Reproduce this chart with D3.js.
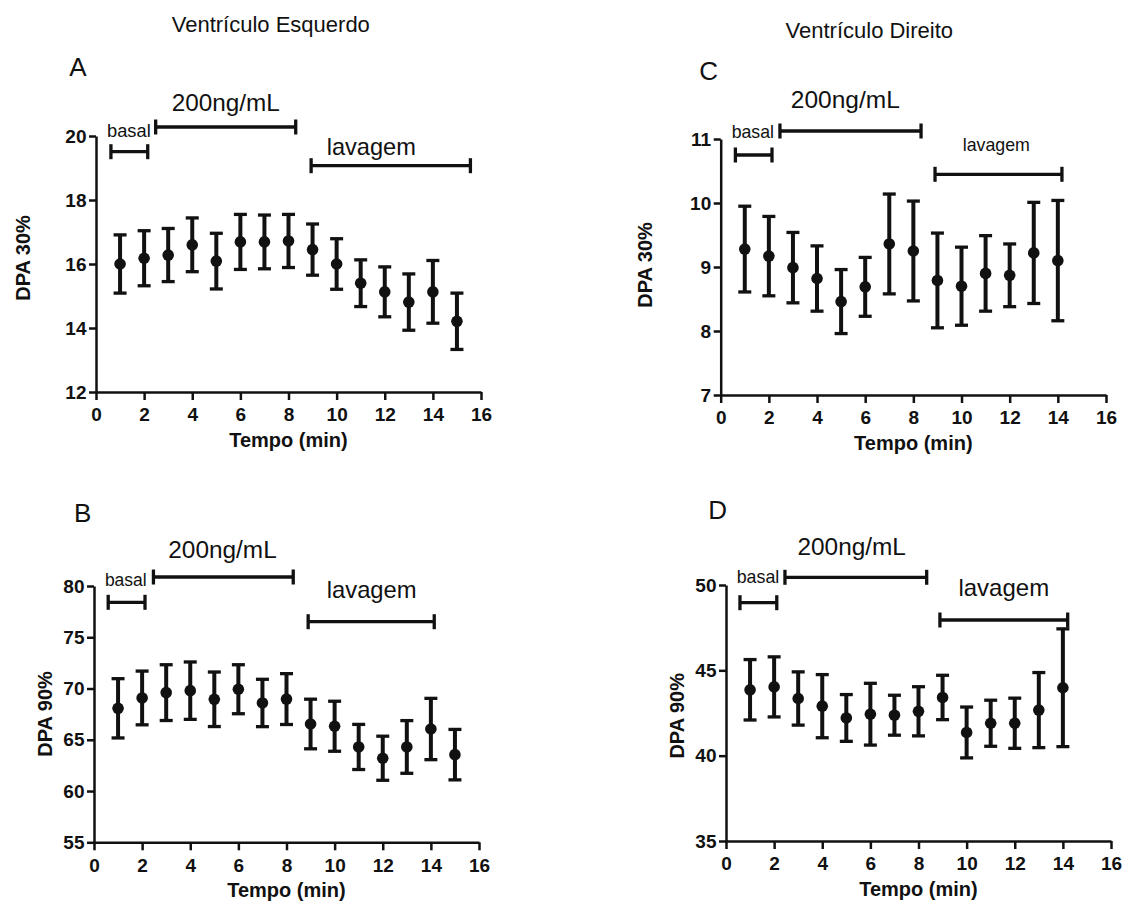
<!DOCTYPE html>
<html>
<head>
<meta charset="utf-8">
<script src="https://cdnjs.cloudflare.com/ajax/libs/d3/7.8.5/d3.min.js"></script>
<style>
body{margin:0;background:#fff;}
svg text{font-family:Arial,"Liberation Sans",sans-serif;fill:#111;}
</style>
</head>
<body>
<div id="chart"></div>
<script>
// tempos (min)
var tempoEsq=[1,2,3,4,5,6,7,8,9,10,11,12,13,14,15];
var tempoDir=[1,2,3,4,5,6,7,8,9,10,11,12,13,14];

// A - ventriculo esquerdo, DPA 30%
var dpa30Esq=[16.0,16.18,16.28,16.6,16.09,16.69,16.69,16.72,16.45,16.0,15.4,15.13,14.81,15.13,14.21];
var dpa30EsqEpm=[0.91,0.86,0.83,0.84,0.87,0.86,0.84,0.83,0.80,0.79,0.73,0.78,0.88,0.98,0.88];
// B - ventriculo esquerdo, DPA 90%
var dpa90Esq=[68.07,69.08,69.6,69.79,68.95,69.93,68.59,68.97,66.54,66.32,64.3,63.2,64.3,66.05,63.55];
var dpa90EsqEpm=[2.89,2.62,2.72,2.8,2.66,2.39,2.31,2.48,2.42,2.44,2.2,2.15,2.57,2.99,2.46];
// C - ventriculo direito, DPA 30%
var dpa30Dir=[9.28,9.17,8.99,8.82,8.46,8.69,9.36,9.25,8.79,8.70,8.90,8.87,9.22,9.10];
var dpa30DirEpm=[0.67,0.62,0.55,0.51,0.5,0.46,0.78,0.78,0.74,0.61,0.59,0.49,0.79,0.94];
// D - ventriculo direito, DPA 90%
var dpa90Dir=[43.86,44.03,43.35,42.9,42.21,42.43,42.37,42.6,43.41,41.36,41.9,41.9,42.67,43.98];
var dpa90DirEpm=[1.77,1.76,1.56,1.85,1.37,1.81,1.17,1.44,1.3,1.49,1.35,1.47,2.2,3.45];

// periodos (inicio, fim em min)
var periodos=["basal","200ng/mL","lavagem"];
var periodosA=[[0.62,2.15],[2.48,8.3],[8.94,15.56]];
var periodosB=[[0.59,2.12],[2.47,8.28],[8.9,14.14]];
var periodosC=[[0.61,2.13],[2.46,8.32],[8.9,14.17]];
var periodosD=[[0.58,2.11],[2.45,8.34],[8.89,14.2]];

// ticks
var xTicks=[0,2,4,6,8,10,12,14,16];
var yTicksA=[12,14,16,18,20];
var yTicksB=[55,60,65,70,75,80];
var yTicksC=[7,8,9,10,11];
var yTicksD=[35,40,45,50];

var titulos=["Ventrículo Esquerdo","Ventrículo Direito"];

var width=1123,height=903;

var svg=d3.select("#chart")
	.append("svg")
	.attr("width",width)
	.attr("height",height);

// layout of each panel (pixels)
var paineis=[
	{letra:"A",t:tempoEsq,m:dpa30Esq,e:dpa30EsqEpm,per:periodosA,yTicks:yTicksA,yLabel:"DPA 30%",
	 x0:96,x1:481,yb:392,yt:136,
	 barY:[151.7,127,165.7],
	 lab:[[128.9,136.7,18.3],[225.8,110.7,24.3],[371.3,155,23.6]],
	 letraPos:[69.3,76],yLabPos:[23,258]},
	{letra:"B",t:tempoEsq,m:dpa90Esq,e:dpa90EsqEpm,per:periodosB,yTicks:yTicksB,yLabel:"DPA 90%",
	 x0:94,x1:479,yb:842.3,yt:586,
	 barY:[602.3,577,621.7],
	 lab:[[125.8,586,17.5],[222.5,558.3,24.4],[371.7,598.3,23.8]],
	 letraPos:[74,522.3],yLabPos:[45,714]},
	{letra:"C",t:tempoDir,m:dpa30Dir,e:dpa30DirEpm,per:periodosC,yTicks:yTicksC,yLabel:"DPA 30%",
	 x0:720.7,x1:1106,yb:395,yt:139,
	 barY:[155,131,174.3],
	 lab:[[752.8,138.3,17.7],[845.3,108.3,24.5],[996.3,151,17.8]],
	 letraPos:[699.3,80],yLabPos:[645.3,265]},
	{letra:"D",t:tempoDir,m:dpa90Dir,e:dpa90DirEpm,per:periodosD,yTicks:yTicksD,yLabel:"DPA 90%",
	 x0:726,x1:1111,yb:841,yt:585,
	 barY:[602.7,577.3,620],
	 lab:[[758,583.3,17.8],[851.7,555,24.4],[1003.8,596,24]],
	 letraPos:[708.3,519],yLabPos:[676.7,715.8]}
];

var tituloPos=[[270.8,32.3,22],[869.3,38.3,22]];

svg.selectAll(".titulo")
	.data(titulos)
	.enter().append("text")
	.attr("class","titulo")
	.attr("x",function(d,i){return tituloPos[i][0];})
	.attr("y",function(d,i){return tituloPos[i][1];})
	.attr("font-size",function(d,i){return tituloPos[i][2];})
	.attr("text-anchor","middle")
	.text(function(d){return d;});

function desenha(p){
	var g=svg.append("g");
	var x=d3.scaleLinear().domain([0,16]).range([p.x0,p.x1]);
	var y=d3.scaleLinear().domain([p.yTicks[0],p.yTicks[p.yTicks.length-1]]).range([p.yb,p.yt]);

	var ax=g.append("g")
		.attr("transform","translate(0,"+p.yb+")")
		.call(d3.axisBottom(x).tickValues(xTicks).tickFormat(d3.format("d")).tickSizeInner(8).tickSizeOuter(0).tickPadding(8));
	var ay=g.append("g")
		.attr("transform","translate("+p.x0+",0)")
		.call(d3.axisLeft(y).tickValues(p.yTicks).tickFormat(d3.format("d")).tickSizeInner(7).tickSizeOuter(0).tickPadding(2.5));
	[ax,ay].forEach(function(a){
		a.select(".domain").attr("stroke","#111").attr("stroke-width",2.5);
		a.selectAll(".tick line").attr("stroke","#111").attr("stroke-width",2.5);
		a.selectAll(".tick text")
			.attr("font-size",19)
			.attr("font-weight","bold")
			.attr("font-family","Arial, 'Liberation Sans', sans-serif")
			.attr("fill","#111");
	});

	// titulos dos eixos
	g.append("text")
		.attr("x",(p.x0+p.x1)/2)
		.attr("y",p.yb+55)
		.attr("text-anchor","middle")
		.attr("font-size",20)
		.attr("font-weight","bold")
		.text("Tempo (min)");
	g.append("text")
		.attr("transform","translate("+p.yLabPos[0]+","+p.yLabPos[1]+") rotate(-90)")
		.attr("dy","0.35em")
		.attr("text-anchor","middle")
		.attr("font-size",20)
		.attr("font-weight","bold")
		.text(p.yLabel);

	// letra do painel
	g.append("text")
		.attr("x",p.letraPos[0])
		.attr("y",p.letraPos[1])
		.attr("font-size",26)
		.text(p.letra);

	// barras dos periodos
	var per=g.selectAll(".periodo")
		.data(p.per)
		.enter().append("g")
		.attr("class","periodo");
	per.append("line")
		.attr("x1",function(d){return x(d[0]);})
		.attr("x2",function(d){return x(d[1]);})
		.attr("y1",function(d,i){return p.barY[i];})
		.attr("y2",function(d,i){return p.barY[i];})
		.attr("stroke","#111").attr("stroke-width",3.3);
	[0,1].forEach(function(k){
		per.append("line")
			.attr("x1",function(d){return x(d[k]);})
			.attr("x2",function(d){return x(d[k]);})
			.attr("y1",function(d,i){return p.barY[i]-7.5;})
			.attr("y2",function(d,i){return p.barY[i]+7.5;})
			.attr("stroke","#111").attr("stroke-width",3.3);
	});
	per.append("text")
		.attr("x",function(d,i){return p.lab[i][0];})
		.attr("y",function(d,i){return p.lab[i][1];})
		.attr("font-size",function(d,i){return p.lab[i][2];})
		.attr("text-anchor","middle")
		.text(function(d,i){return periodos[i];});

	// pontos com erro padrao
	var pts=g.selectAll(".ponto")
		.data(p.t)
		.enter().append("g")
		.attr("class","ponto");
	pts.append("line")
		.attr("x1",function(d){return x(d);})
		.attr("x2",function(d){return x(d);})
		.attr("y1",function(d,i){return y(p.m[i]+p.e[i]);})
		.attr("y2",function(d,i){return y(p.m[i]-p.e[i]);})
		.attr("stroke","#111").attr("stroke-width",4);
	[1,-1].forEach(function(s){
		pts.append("line")
			.attr("x1",function(d){return x(d)-6.5;})
			.attr("x2",function(d){return x(d)+6.5;})
			.attr("y1",function(d,i){return y(p.m[i]+s*p.e[i]);})
			.attr("y2",function(d,i){return y(p.m[i]+s*p.e[i]);})
			.attr("stroke","#111").attr("stroke-width",3.3);
	});
	pts.append("circle")
		.attr("cx",function(d){return x(d);})
		.attr("cy",function(d,i){return y(p.m[i]);})
		.attr("r",5.8)
		.attr("fill","#111");
}

paineis.forEach(desenha);
</script>
</body>
</html>
